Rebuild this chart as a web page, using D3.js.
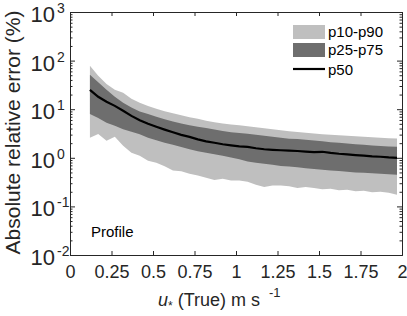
<!DOCTYPE html>
<html>
<head>
<meta charset="utf-8">
<script src="https://cdn.jsdelivr.net/npm/d3@7"></script>
<style>
  body { margin: 0; background: #fff; }
  svg { font-family: "Liberation Sans", Arial, Helvetica, sans-serif; }
  .axis path, .axis line { stroke: #262626; }
  .axis text { fill: #262626; }
</style>
</head>
<body>
<div id="chart"></div>
<script>
// u* (True), m s-1
const ustar = [0.12, 0.17, 0.22, 0.27, 0.32, 0.37, 0.42, 0.47, 0.52, 0.57,
  0.62, 0.67, 0.72, 0.77, 0.82, 0.87, 0.92, 0.97, 1.02, 1.07,
  1.12, 1.17, 1.22, 1.27, 1.32, 1.37, 1.42, 1.47, 1.52, 1.57,
  1.62, 1.67, 1.72, 1.77, 1.82, 1.87, 1.92, 1.97];

// absolute relative error percentiles (%)
const p10 = [2.6, 3.1, 2.25, 2.7, 1.77, 1.27, 1.1, 0.87, 0.79, 0.67,
  0.55, 0.53, 0.47, 0.43, 0.39, 0.35, 0.37, 0.34, 0.34, 0.32,
  0.28, 0.25, 0.27, 0.27, 0.26, 0.24, 0.25, 0.24, 0.225, 0.23,
  0.214, 0.22, 0.205, 0.21, 0.195, 0.2, 0.19, 0.174];
const p25 = [8.0, 6.6, 5.25, 4.55, 3.85, 3.45, 3.05, 2.6, 2.3, 2.05,
  1.85, 1.66, 1.5, 1.36, 1.27, 1.19, 1.1, 1.02, 0.93, 0.84,
  0.79, 0.75, 0.72, 0.68, 0.66, 0.64, 0.61, 0.59, 0.57, 0.55,
  0.535, 0.515, 0.5, 0.49, 0.48, 0.47, 0.46, 0.45];
const p50 = [25, 18, 14.2, 11.7, 9.3, 7.3, 5.9, 5.0, 4.35, 3.8,
  3.35, 2.97, 2.7, 2.4, 2.18, 2.04, 1.9, 1.8, 1.72, 1.68,
  1.57, 1.5, 1.46, 1.43, 1.41, 1.38, 1.34, 1.31, 1.33, 1.26,
  1.21, 1.18, 1.14, 1.11, 1.07, 1.05, 1.02, 1.0];
const p75 = [51, 36, 25, 18, 13.5, 10.8, 9.0, 8.0, 7.0, 6.2,
  5.6, 5.1, 4.7, 4.35, 4.1, 3.8, 3.55, 3.35, 3.22, 3.12,
  2.97, 2.84, 2.7, 2.58, 2.48, 2.44, 2.35, 2.27, 2.2, 2.1,
  2.05, 1.97, 1.9, 1.85, 1.8, 1.75, 1.71, 1.68];
const p90 = [78, 49, 33, 25, 21.8, 16.4, 13.5, 11.7, 10.2, 9.05,
  8.24, 7.5, 6.8, 6.35, 5.77, 5.38, 5.08, 4.84, 4.66, 4.45,
  4.24, 4.05, 3.86, 3.68, 3.51, 3.38, 3.27, 3.16, 3.07, 2.97,
  2.9, 2.84, 2.77, 2.7, 2.64, 2.58, 2.54, 2.5];

const xTicks = [0, 0.25, 0.5, 0.75, 1, 1.25, 1.5, 1.75, 2];
const xTickLabels = ["0", "0.25", "0.5", "0.75", "1", "1.25", "1.5", "1.75", "2"];
const yDecades = [-2, -1, 0, 1, 2, 3];
const legendLabels = ["p10-p90", "p25-p75", "p50"];

const W = 407, H = 316;
const margin = {top: 12, right: 5, bottom: 61, left: 70};
const width = W - margin.left - margin.right,
  height = H - margin.top - margin.bottom;

const light = "#bfbfbf", dark = "#6e6e6e";

const svg = d3.select("#chart")
  .append("svg")
    .attr("width", W)
    .attr("height", H)
  .append("g")
    .attr("transform", `translate(${margin.left},${margin.top})`);

const x = d3.scaleLinear().domain([0, 2]).range([0, width]);
const y = d3.scaleLog().domain([0.01, 1000]).range([height, 0]);

const rows = ustar.map((u, i) => ({u, p10: p10[i], p25: p25[i], p50: p50[i], p75: p75[i], p90: p90[i]}));

// bands
svg.append("path")
  .datum(rows)
  .attr("fill", light)
  .attr("d", d3.area().x(d => x(d.u)).y0(d => y(d.p10)).y1(d => y(d.p90)));

svg.append("path")
  .datum(rows)
  .attr("fill", dark)
  .attr("d", d3.area().x(d => x(d.u)).y0(d => y(d.p25)).y1(d => y(d.p75)));

svg.append("path")
  .datum(rows)
  .attr("fill", "none")
  .attr("stroke", "#000")
  .attr("stroke-width", 2.2)
  .attr("d", d3.line().x(d => x(d.u)).y(d => y(d.p50)));

// axes (ticks point inward, box all round)
const majors = yDecades.map(d => Math.pow(10, d));
const minors = y.ticks().filter(v => !majors.some(m => Math.abs(m - v) / m < 1e-6));

svg.append("g").attr("class", "axis")
  .call(d3.axisLeft(y).tickValues(majors).tickSize(-5).tickFormat(""));
svg.append("g").attr("class", "axis")
  .call(d3.axisLeft(y).tickValues(minors).tickSize(-2.5).tickFormat(""))
  .select(".domain").remove();
svg.append("g").attr("class", "axis")
  .attr("transform", `translate(${width},0)`)
  .call(d3.axisRight(y).tickValues(majors).tickSize(-5).tickFormat(""));
svg.append("g").attr("class", "axis")
  .attr("transform", `translate(${width},0)`)
  .call(d3.axisRight(y).tickValues(minors).tickSize(-2.5).tickFormat(""))
  .select(".domain").remove();

const xAxis = svg.append("g").attr("class", "axis")
  .attr("transform", `translate(0,${height})`)
  .call(d3.axisBottom(x).tickValues(xTicks).tickSize(-4)
    .tickFormat((d, i) => xTickLabels[i]).tickPadding(10));
xAxis.selectAll("text").attr("font-size", 18).attr("dy", "0.71em");
svg.append("g").attr("class", "axis")
  .call(d3.axisTop(x).tickValues(xTicks).tickSize(-4).tickFormat(""));

svg.selectAll(".axis path.domain").attr("stroke-width", 1);

// y tick labels 10^n
const yLab = svg.append("g").attr("fill", "#262626");
yDecades.forEach(d => {
  yLab.append("text")
    .attr("x", -15)
    .attr("y", y(Math.pow(10, d)) + 10)
    .attr("text-anchor", "end")
    .attr("font-size", 22)
    .text("10");
  yLab.append("text")
    .attr("x", -13)
    .attr("y", y(Math.pow(10, d)) + 1)
    .attr("font-size", 14)
    .text(d);
});

// axis titles
svg.append("text")
  .attr("transform", `translate(${-50},${height / 2 - 1}) rotate(-90)`)
  .attr("text-anchor", "middle")
  .attr("font-size", 21)
  .attr("fill", "#262626")
  .text("Absolute relative error (%)");

const xt = svg.append("text")
  .attr("x", x(1) - 78)
  .attr("y", height + 51)
  .attr("font-size", 18)
  .attr("fill", "#262626");
xt.append("tspan").attr("font-style", "italic").text("u");
xt.append("tspan").attr("font-size", 12).attr("dy", 4).text("*");
xt.append("tspan").attr("dy", -4).text(" (True) m s");
xt.append("tspan").attr("font-size", 13).attr("dx", 9).attr("dy", -9).text("-1");

// annotation
svg.append("text")
  .attr("x", 21)
  .attr("y", 225)
  .attr("font-size", 15)
  .attr("fill", "#000")
  .text("Profile");

// legend
const leg = svg.append("g").attr("transform", `translate(${223},${13})`);
leg.append("rect").attr("x", 0).attr("y", 0).attr("width", 32).attr("height", 14).attr("fill", light);
leg.append("rect").attr("x", 0).attr("y", 18).attr("width", 32).attr("height", 14).attr("fill", dark);
leg.append("line").attr("x1", 0).attr("x2", 32).attr("y1", 44).attr("y2", 44)
  .attr("stroke", "#000").attr("stroke-width", 2.2);
leg.selectAll("text.lab")
  .data(legendLabels)
  .join("text")
    .attr("class", "lab")
    .attr("x", 35)
    .attr("y", (d, i) => [12, 30, 49.5][i])
    .attr("font-size", 15)
    .attr("fill", "#000")
    .text(d => d);
</script>
</body>
</html>
